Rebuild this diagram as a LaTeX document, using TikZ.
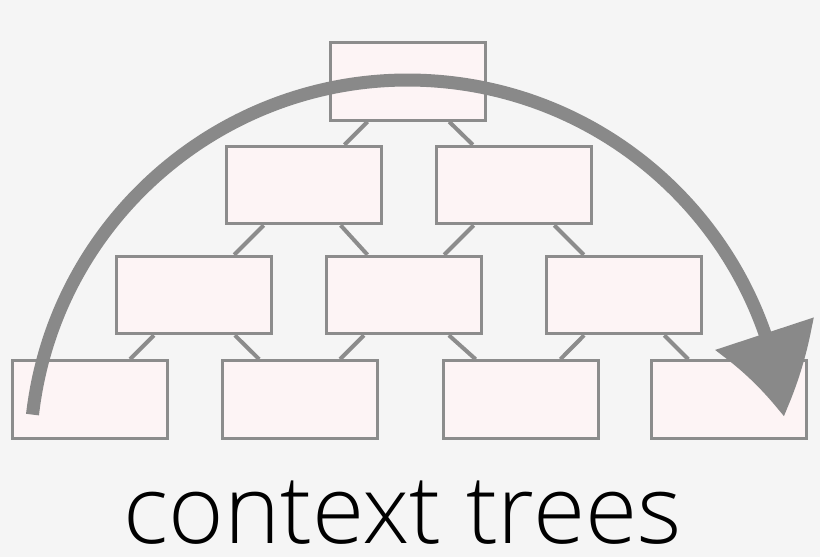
\documentclass[tikz,border=0pt]{standalone}
\usepackage{fontspec}
\setmainfont{Open Sans}[UprightFont={* Light}]
\usetikzlibrary{arrows.meta,bending}

\definecolor{bggray}{HTML}{F5F5F5}
\definecolor{boxfill}{HTML}{FDF4F5}
\definecolor{boxline}{HTML}{8C8C8C}
\definecolor{arcgray}{HTML}{898989}

\begin{document}
\begin{tikzpicture}[x=1pt,y=-1pt,thick,
    box/.style={rectangle,draw=boxline,fill=boxfill,line width=3pt,minimum width=155pt,minimum height=77.5pt,inner sep=0pt},
    link/.style={draw=boxline,line width=4pt},
    sweep/.style={draw=arcgray,line width=13pt,-{Triangle[length=86pt,width=100pt,bend]}}]
            \path[use as bounding box,fill=bggray] (0,0) rectangle (820,557);

            \node[box] (1) at (408,81.5) {};

            \node[box] (2) at (304,185) {};
            \node[box] (3) at (514,185) {};

            \node[box] (4) at (194,295) {};
            \node[box] (5) at (404,295) {};
            \node[box] (6) at (624,295) {};

            \node[box] (7) at (90,399.5) {};
            \node[box] (8) at (300,399.5) {};
            \node[box] (9) at (520.5,399.5) {};
            \node[box] (10) at (728.5,399.5) {};

            \path[link]
                (1) edge (2)
                (1) edge (3)
                (2) edge (4)
                (2) edge (5)
                (3) edge (5)
                (3) edge (6)
                (4) edge (7)
                (4) edge (8)
                (5) edge (8)
                (5) edge (9)
                (6) edge (9)
                (6) edge (10)
                ;

            % sweep over the whole tree
            \coordinate (start) at (32.5,414.6);
            \draw[sweep] (start) arc[start angle=-173.4,end angle=-6.3,radius=378];

            \node[anchor=base,inner sep=0pt,font=\fontsize{95}{100}\selectfont] (title) at (402.5,543) {context trees};
        \end{tikzpicture}
\end{document}
